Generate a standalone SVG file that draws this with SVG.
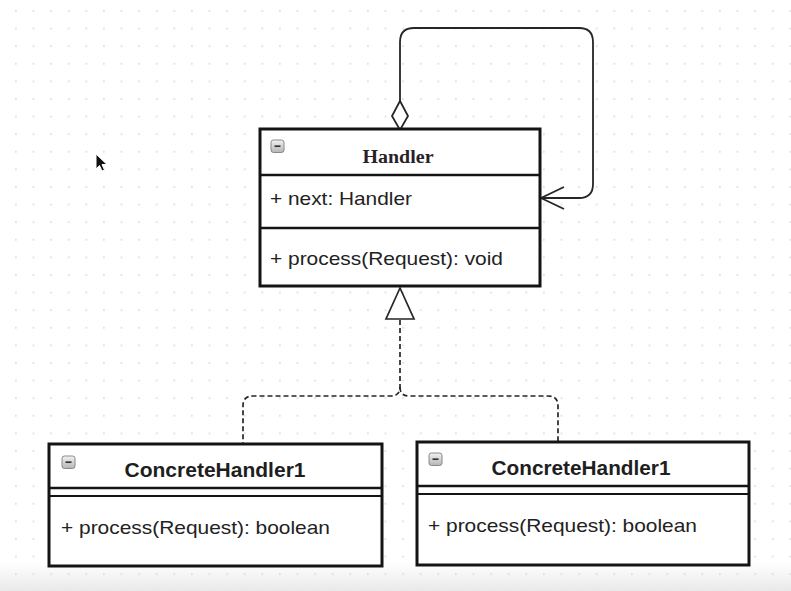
<svg xmlns="http://www.w3.org/2000/svg" width="791" height="591" viewBox="0 0 791 591">
<defs>
<pattern id="grid" x="15" y="10" width="17.6" height="17.6" patternUnits="userSpaceOnUse">
<circle cx="0.9" cy="0.9" r="0.9" fill="#d6d6d6"/>
</pattern>
<linearGradient id="band" x1="0" y1="0" x2="0" y2="1">
<stop offset="0" stop-color="#ffffff"/>
<stop offset="1" stop-color="#e9e9e9"/>
</linearGradient>
<linearGradient id="ico" x1="0" y1="0" x2="0" y2="1">
<stop offset="0" stop-color="#f2f2f2"/>
<stop offset="1" stop-color="#b5b5b5"/>
</linearGradient>
<g id="minus">
<rect x="0" y="0" width="13" height="12.5" rx="2.5" fill="url(#ico)" stroke="#888" stroke-width="1"/>
<line x1="3.5" y1="6.2" x2="9.5" y2="6.2" stroke="#333" stroke-width="1.7"/>
</g>
</defs>
<style>
.box{fill:#ffffff;stroke:#141414;stroke-width:3}
.div{stroke:#141414;stroke-width:2.5}
.div2{stroke:#141414;stroke-width:1.8}
.conn{fill:none;stroke:#262626;stroke-width:1.8}
.dash{fill:none;stroke:#262626;stroke-width:1.7;stroke-dasharray:5 3}
.attr{font-family:"Liberation Sans",Arial,sans-serif;font-size:19px;fill:#222}
.ttl{font-family:"Liberation Sans",Arial,sans-serif;font-size:19.5px;font-weight:bold;fill:#1e1e1e}
.ttlserif{font-family:"Liberation Serif","Times New Roman",serif;font-size:18.5px;font-weight:bold;fill:#2a1f2a}
</style>
<rect width="791" height="591" fill="#ffffff"/>
<rect x="0" y="562" width="791" height="29" fill="url(#band)"/>
<rect width="791" height="591" fill="url(#grid)"/>

<g id="connectors">
<path class="conn" d="M400,102 V42 Q400,28 414,28 H579 Q593,28 593,42 V184 Q593,198 579,198 H541"/>
<polyline class="conn" points="564,187 541,198 564,209"/>
<polygon points="400,101 392,116 400,130 408,116" fill="#ffffff" stroke="#262626" stroke-width="1.8"/>
<path class="dash" d="M400,320 V387 Q400,396 391,396 H253 Q243,396 243,406 V444"/>
<path class="dash" d="M400,387 Q400,396 409,396 H548 Q558,396 558,406 V442"/>
<polygon points="400,288 386,319 414,319" fill="#ffffff" stroke="#262626" stroke-width="1.7"/>
</g>

<g id="handler">
<rect class="box" x="260" y="129" width="280" height="157"/>
<line class="div" x1="260" y1="175" x2="540" y2="175"/>
<line class="div" x1="260" y1="228" x2="540" y2="228"/>
<use href="#minus" x="271" y="140"/>
<text class="ttlserif" x="398" y="163" text-anchor="middle" textLength="71" lengthAdjust="spacingAndGlyphs">Handler</text>
<text class="attr" x="270" y="205" textLength="142" lengthAdjust="spacingAndGlyphs">+ next: Handler</text>
<text class="attr" x="270" y="265" textLength="233" lengthAdjust="spacingAndGlyphs">+ process(Request): void</text>
</g>

<g id="concrete1">
<rect class="box" x="49" y="444" width="333" height="122"/>
<line class="div" x1="49" y1="488" x2="382" y2="488"/>
<line class="div2" x1="49" y1="496" x2="382" y2="496"/>
<use href="#minus" x="62" y="456"/>
<text class="ttl" x="215" y="477" text-anchor="middle" textLength="181" lengthAdjust="spacingAndGlyphs">ConcreteHandler1</text>
<text class="attr" x="61" y="534" textLength="269" lengthAdjust="spacingAndGlyphs">+ process(Request): boolean</text>
</g>

<g id="concrete2">
<rect class="box" x="417" y="442" width="332" height="123"/>
<line class="div" x1="417" y1="486" x2="749" y2="486"/>
<line class="div2" x1="417" y1="494" x2="749" y2="494"/>
<use href="#minus" x="429" y="453"/>
<text class="ttl" x="581" y="475" text-anchor="middle" textLength="179" lengthAdjust="spacingAndGlyphs">ConcreteHandler1</text>
<text class="attr" x="428" y="532" textLength="269" lengthAdjust="spacingAndGlyphs">+ process(Request): boolean</text>
</g>

<g id="cursor">
<path d="M96,154 L96,169 L99.5,165.5 L102,171 L104.5,170 L102,164.5 L107,164.5 Z" fill="#111" stroke="#ffffff" stroke-width="1"/>
</g>
</svg>
